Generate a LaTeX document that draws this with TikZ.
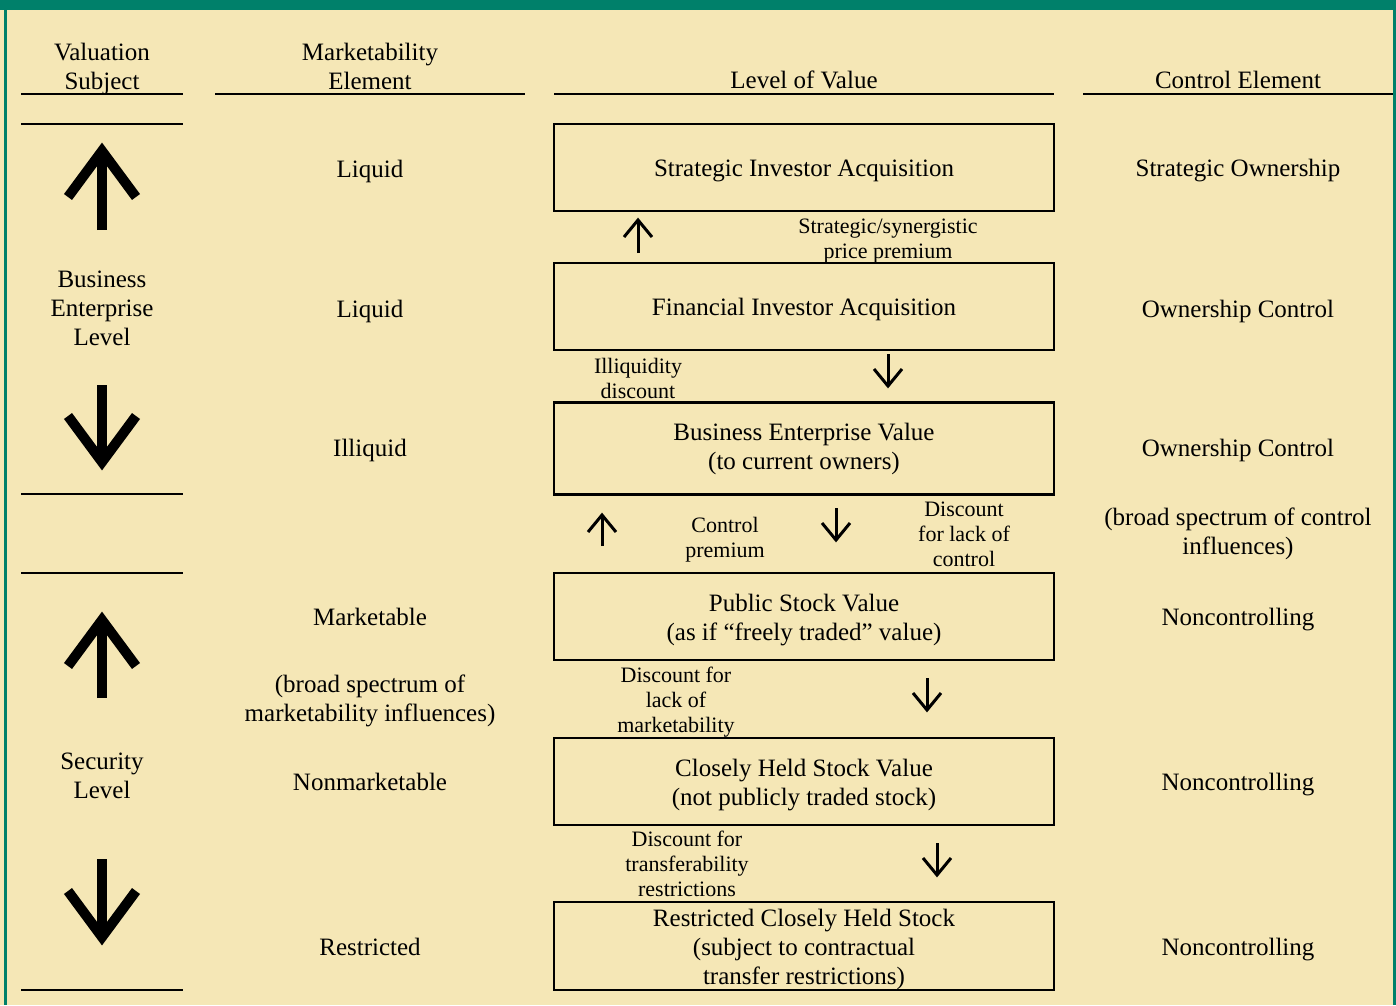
\documentclass[tikz,border=0pt]{standalone}
\usepackage{fontspec}
\setmainfont{Liberation Serif}

\definecolor{paper}{RGB}{245,231,182}
\definecolor{frame}{RGB}{0,128,106}

\newcommand{\boxstrut}{\rule{0pt}{24pt}}

\tikzset{
  every node/.style={font=\fontsize{25}{29}\selectfont, align=center, inner sep=0pt},
  note/.style={font=\fontsize{22}{25}\selectfont},
  valuebox/.style={draw, line width=2.5pt, minimum width=500pt, minimum height=87pt},
  hrule/.style={line width=2.5pt},
  bigarrow/.style={line width=10pt, miter limit=20},
  smallarrow/.style={line width=3pt, miter limit=20},
}

\begin{document}
\begin{tikzpicture}[x=1pt,y=-1pt]
  \useasboundingbox (0,0) rectangle (1396,1005);
  \fill[paper] (0,0) rectangle (1396,1005);
  \fill[frame] (0,0) rectangle (1396,10);
  \fill[frame] (4,0) rectangle (7,1005);
  \fill[frame] (1393,0) rectangle (1396,1005);

  % column heads
  \node (hs) at (102,68.5) {Valuation\\Subject};
  \node (hm) at (370,66)   {Marketability\\Element};
  \node (hl) at (804,80)   {Level of Value};
  \node (hc) at (1238,80)  {Control Element};
  \draw[hrule] (21,94) -- (183,94);
  \draw[hrule] (215,94) -- (525,94);
  \draw[hrule] (554,94) -- (1054,94);
  \draw[hrule] (1083,94) -- (1393,94);

  % valuation subject
  \draw[hrule] (21,124) -- (183,124);
  \draw[hrule] (21,494) -- (183,494);
  \draw[hrule] (21,573) -- (183,573);
  \draw[hrule] (21,990) -- (183,990);
  \node (be) at (102,308)   {Business\\Enterprise\\Level};
  \node (sl) at (102,775.5) {Security\\Level};

  % levels of value
  \node[valuebox] (b1) at (804,167.5) {\boxstrut Strategic Investor Acquisition};
  \node[valuebox] (b2) at (804,306.5) {\boxstrut Financial Investor Acquisition};
  \node[valuebox, minimum height=92pt] (b3) at (804,448.5) {Business Enterprise Value\\(to current owners)};
  \node[valuebox] (b4) at (804,616.5) {\boxstrut Public Stock Value\\(as if “freely traded” value)};
  \node[valuebox] (b5) at (804,781.5) {\boxstrut Closely Held Stock Value\\(not publicly traded stock)};
  \node[valuebox, minimum height=88pt] (b6) at (804,946) {\boxstrut Restricted Closely Held Stock\\(subject to contractual\\transfer restrictions)};

  % marketability element
  \node (m1) at (370,171)   {Liquid};
  \node (m2) at (370,311)   {Liquid};
  \node (m3) at (370,450)   {Illiquid};
  \node (m4) at (370,617)   {Marketable};
  \node (m5) at (370,700.5) {(broad spectrum of\\marketability influences)};
  \node (m6) at (370,782)   {Nonmarketable};
  \node (m7) at (370,947)   {Restricted};

  % control element
  \node (c1) at (1238,171) {Strategic Ownership};
  \node (c2) at (1238,311) {Ownership Control};
  \node (c3) at (1238,450) {Ownership Control};
  \node (c4) at (1238,534) {(broad spectrum of control\\influences)};
  \node (c5) at (1238,620) {Noncontrolling};
  \node (c6) at (1238,785) {Noncontrolling};
  \node (c7) at (1238,950) {Noncontrolling};

  % premiums and discounts
  \node[note] (sp) at (888,241.5) {Strategic/synergistic\\price premium};
  \node[note] (il) at (638,378)   {Illiquidity\\discount};
  \node[note] (cp) at (725,539.5) {Control\\premium};
  \node[note] (dc) at (964,534.5) {Discount\\for lack of\\control};
  \node[note] (dm) at (676,702)   {Discount for\\lack of\\marketability};
  \node[note] (dt) at (687,864)   {Discount for\\transferability\\restrictions};

  % big arrows
  \foreach \x/\t/\b in {102/143/230, 102/612/698} {
    \draw[bigarrow] (\x,\b) -- (\x,\t+8);
    \draw[bigarrow] (\x-34,\t+54) -- (\x,\t+8) -- (\x+34,\t+54);
  }
  \foreach \x/\t/\b in {102/385/470, 102/859/945} {
    \draw[bigarrow] (\x,\t) -- (\x,\b-8);
    \draw[bigarrow] (\x-34,\b-54) -- (\x,\b-8) -- (\x+34,\b-54);
  }

  % small arrows
  \foreach \x/\t/\b in {638/218/253, 602/513/546} {
    \draw[smallarrow] (\x,\b) -- (\x,\t+2);
    \draw[smallarrow] (\x-14,\t+19) -- (\x,\t+2) -- (\x+14,\t+19);
  }
  \foreach \x/\t/\b in {888/354/388, 836/508/542, 927/678/712, 937/843/877} {
    \draw[smallarrow] (\x,\t) -- (\x,\b-2);
    \draw[smallarrow] (\x-14,\b-19) -- (\x,\b-2) -- (\x+14,\b-19);
  }
\end{tikzpicture}
\end{document}
